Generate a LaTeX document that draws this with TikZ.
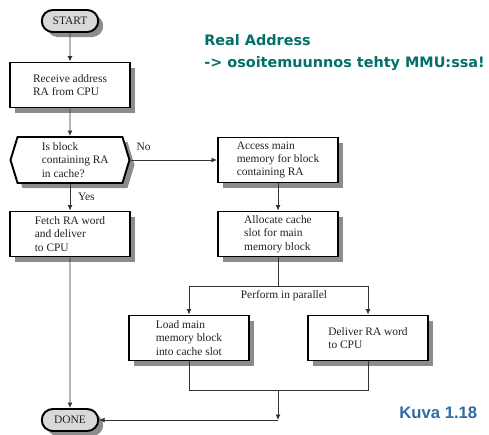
\documentclass[tikz,border=0pt]{standalone}
\usepackage{fontspec}
\setmainfont{Liberation Serif}
\newfontfamily\titlefont{DejaVu Sans}
\newfontfamily\kuvafont{Liberation Sans}
\usetikzlibrary{arrows.meta,shapes.misc,shapes.symbols,shadows}
\definecolor{tealtext}{RGB}{0,112,104}
\definecolor{kuvablue}{RGB}{47,106,168}
\definecolor{inkgray}{RGB}{34,34,34}
\tikzset{
  shade/.style={drop shadow={shadow xshift=0.1cm,shadow yshift=-0.1cm,fill=black!45,opacity=1}},
  stepbox/.style={draw=black,line width=1.1pt,fill=white,shade,minimum width=2.4cm,minimum height=0.9cm,align=left,inner sep=2pt,text=inkgray},
  term/.style={rounded rectangle,draw=black,line width=1.1pt,fill=black!15,shade,minimum width=1.2cm,minimum height=0.44cm,inner sep=1pt,text=inkgray},
  decide/.style={signal,signal to=west and east,signal pointer angle=146,draw=black,line width=1.1pt,fill=white,shade,minimum width=2.38cm,minimum height=0.92cm,align=left,inner sep=1pt,text=inkgray},
  flow/.style={draw=black!80,line width=0.5pt},
  arr/.style={flow,-{Latex[length=0.11cm,width=0.1cm]}},
}
\begin{document}
\begin{tikzpicture}[x=0.02cm,y=-0.02cm,font=\fontsize{6.5}{7.6}\selectfont]
    \useasboundingbox (0,0) rectangle (489,434);
    % header texts
    \node[anchor=base west,inner sep=0,text=tealtext,font=\titlefont\bfseries\fontsize{8.2}{10}\selectfont] (title) at (204,45) {Real Address};
    \node[anchor=base west,inner sep=0,text=tealtext,font=\titlefont\bfseries\fontsize{8.2}{10}\selectfont] (subtitle) at (204,67) {-> osoitemuunnos tehty MMU:ssa!};
    \node[anchor=base west,inner sep=0,text=kuvablue,font=\kuvafont\bfseries\fontsize{9.5}{11}\selectfont] (kuva) at (399,418) {Kuva 1.18};

    % flow nodes
    \node[term] (start) at (70,21) {START};
    \node[stepbox] (recv) at (70,85) {Receive address\\RA from CPU};
    \node[decide] (dec) at (70,160) {\hspace*{6pt}Is block\\\hspace*{6pt}containing RA\\\hspace*{6pt}in cache?};
    \node[stepbox] (fetch) at (70,234) {Fetch RA word\\and deliver\\to CPU};
    \node[stepbox] (access) at (278,160) {Access main\\memory for block\\containing RA};
    \node[stepbox] (alloc) at (278,234) {Allocate cache\\slot for main\\memory block};
    \node[stepbox] (load) at (189,338) {Load main\\memory block\\into cache slot};
    \node[stepbox] (deliver) at (368,338) {Deliver RA word\\to CPU};
    \node[term] (done) at (70,420) {DONE};

    \coordinate (split) at (278,286);
    \coordinate (join) at (278,390);
    \coordinate (merge) at (278,420);

    % connectors
    \draw[arr] (start) -- (recv);
    \draw[arr] (recv) -- (dec);
    \draw[arr] (dec.south) -- node[right=1pt,text=inkgray] (yes) {Yes} (fetch);
    \draw[arr] (dec.east) -- node[above=2pt,pos=0.15,text=inkgray] (no) {No} (access.west);
    \draw[arr] (access) -- (alloc);
    \draw[flow] (alloc) -- (split);
    \draw[arr] (split) -| (load.north);
    \draw[arr] (split) -| (deliver.north);
    \node[anchor=north,inner sep=1pt,text=inkgray] (par) at (284,288) {Perform in parallel};
    \draw[flow] (load.south) |- (join);
    \draw[flow] (deliver.south) |- (join);
    \draw[arr] (join) -- (merge);
    \draw[arr] (merge) -- (done.east);
    \draw[arr] (fetch) -- (done);
\end{tikzpicture}
\end{document}
